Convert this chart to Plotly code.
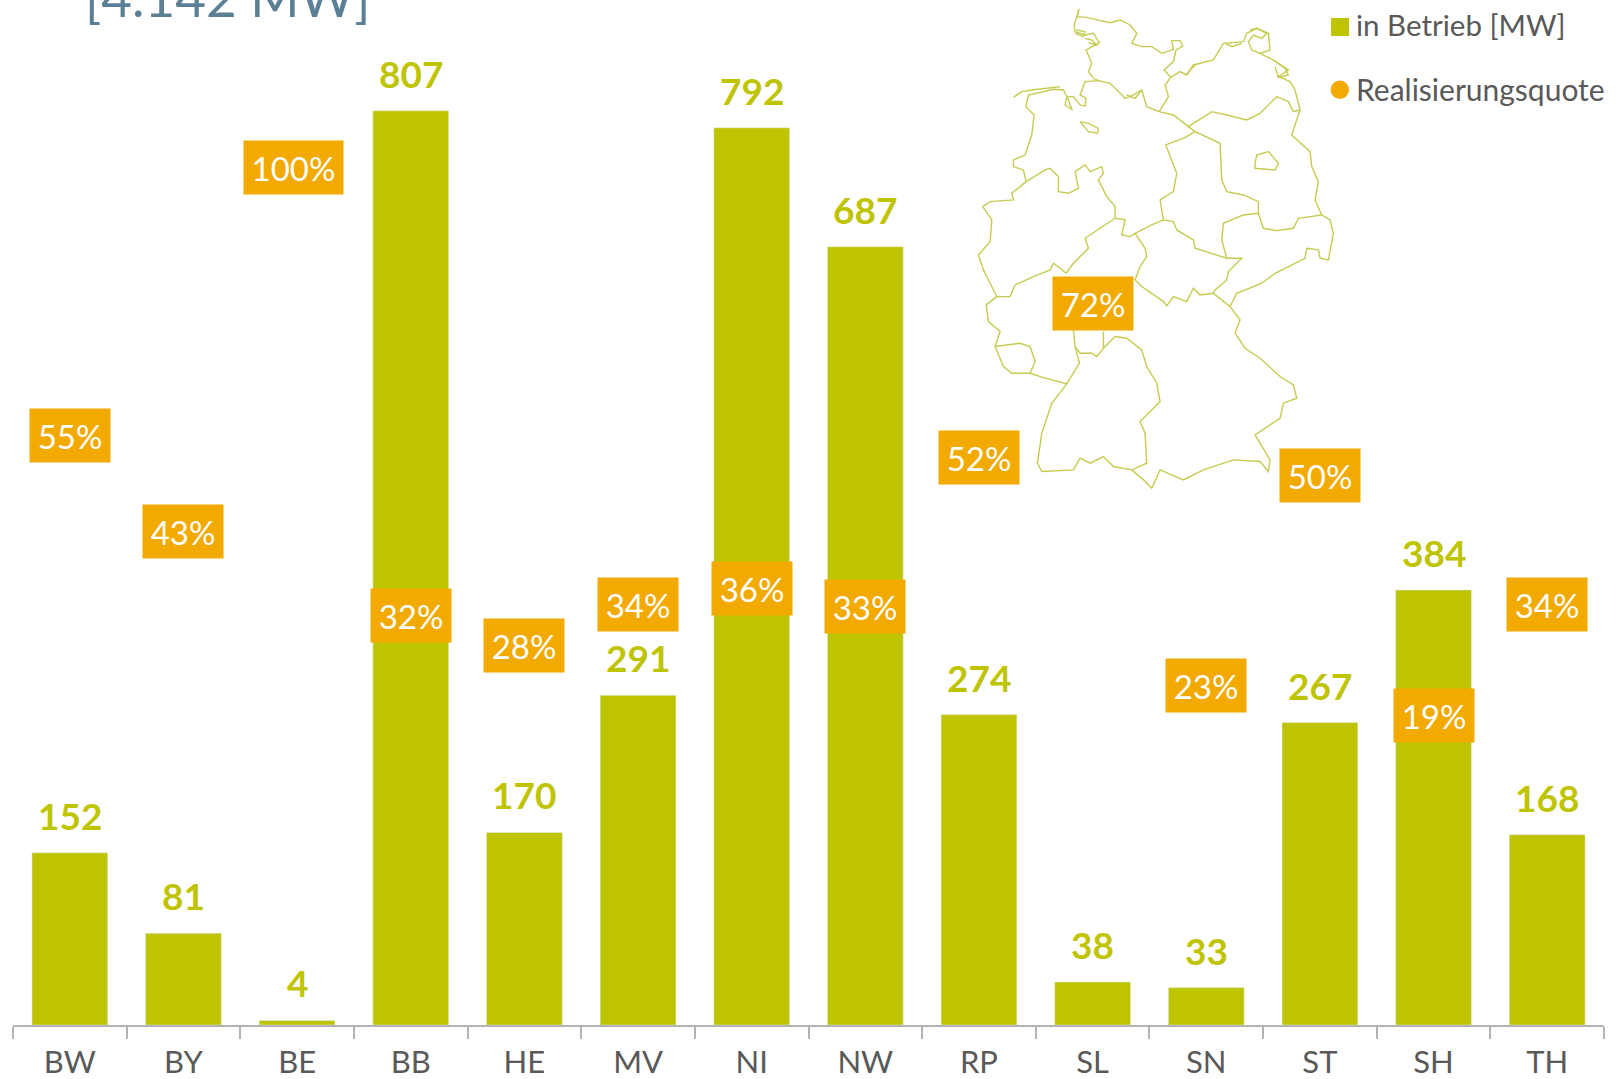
import plotly.graph_objects as go

categories = ["BW", "BY", "BE", "BB", "HE", "MV", "NI", "NW", "RP", "SL", "SN", "ST", "SH", "TH"]
in_betrieb = [152, 81, 4, 807, 170, 291, 792, 687, 274, 38, 33, 267, 384, 168]
quote_labels = ["55%", "43%", "100%", "32%", "28%", "34%", "36%", "33%", "52%", "72%", "23%", "50%", "19%", "34%"]
quote_level = [55.0, 42.6, 89.5, 31.8, 28.0, 33.2, 35.3, 33.0, 52.2, 72.0, 22.8, 49.9, 19.0, 33.2]
title_text = "[4.142 MW]"
legend_names = ["in Betrieb [MW]", "Realisierungsquote"]

OLIVE = "#bfc400"
ORANGE = "#f2a900"
GREY = "#595959"
MAP = "#c6cb50"
W, H = 1623, 1079
ML, MR, MT, MB = 12.7, 19, 0, 53.7
FONT = "Lato"

# Germany sketch: decorative outline, in coordinates of a 1200x1500 drawing box
map_lines = [
    [(342,75),(350,50),(357,27),(352,50),(380,52),(420,62),(450,68),(480,60),(510,75),(530,100),(515,130),(545,140),(575,140),(605,160),(640,148),(635,122),(660,122),(668,138),(648,150),(640,185),(612,210),(632,232),(615,255),(625,290),(597,335)],
    [(342,75),(345,95),(375,105),(400,100),(418,128),(378,150),(395,190),(385,215),(400,235),(415,242)],
    [(597,335),(560,320),(545,270),(510,290),(495,295),(450,250),(415,242),(375,245),(360,285),(378,295),(375,318),(360,315),(340,290),(320,290),(315,315),(335,328),(325,300),(310,270),(280,268),(205,285),(197,320),(222,345),(215,405),(195,465),(160,480),(160,500),(190,510),(198,545)],
    [(360,365),(385,370),(415,385),(412,400),(385,395),(360,365)],
    [(160,292),(185,275),(215,270),(260,265),(300,260)],
    [(198,545),(255,510),(270,505),(295,530),(295,575),(325,580),(355,565),(345,515),(375,495),(390,515),(425,500),(430,520),(415,540),(440,590),(465,620),(465,655),(495,660),(485,705),(510,710),(525,700),(575,675),(610,660),(600,600),(640,575),(650,520),(617,435),(670,415),(705,395),(685,380),(640,345),(597,335)],
    [(632,232),(660,215),(680,225),(700,195),(760,180),(790,130),(850,125),(860,100),(890,85),(925,100),(930,150),(900,160),(940,180),(985,210),(955,230),(990,245),(1005,270),(1020,330),(1000,335),(985,305),(950,290),(900,340),(860,360),(800,345),(755,335),(700,370),(685,380)],
    [(1020,330),(995,405),(1050,455),(1055,500),(1075,545),(1065,600),(1085,645),(1015,655),(1000,685),(950,692),(910,685),(895,640),(895,605),(850,585),(800,575),(785,540),(780,430),(705,395)],
    [(885,490),(890,465),(925,455),(955,490),(945,510),(885,505),(885,490)],
    [(610,660),(640,665),(650,690),(700,720),(705,745),(800,775),(785,720),(790,670),(850,645),(895,640)],
    [(800,775),(845,775),(805,815),(800,840),(765,870),(760,880),(810,920),(830,880),(905,850),(945,820),(1035,775),(1040,745),(1075,750),(1080,775),(1105,780),(1120,700),(1110,660),(1085,645)],
    [(525,700),(555,745),(560,770),(540,800),(525,840),(545,860),(610,905),(620,918),(640,890),(680,905),(700,865),(720,885),(760,880)],
    [(465,655),(420,685),(375,715),(385,745),(340,790),(318,820)],
    [(340,990),(345,1040),(360,1060),(395,1060),(410,1070),(430,1045),(430,995)],
    [(198,545),(155,580),(160,600),(90,605),(68,620),(95,660),(90,725),(55,765),(70,810),(90,850),(110,890),(150,890),(165,855),(220,830),(270,810),(280,790),(300,805),(318,820)],
    [(110,890),(78,915),(85,965),(120,995),(105,1040),(130,1100),(155,1120),(210,1120),(240,1130),(320,1152),(358,1090),(345,1040)],
    [(105,1040),(180,1030),(210,1040),(225,1085),(210,1120)],
    [(320,1152),(275,1210),(245,1300),(232,1390),(245,1415),(340,1410),(360,1375),(390,1390),(430,1370),(460,1400),(515,1410),(560,1390),(555,1300),(540,1265),(600,1205),(590,1150),(560,1100),(545,1050),(500,1015),(465,1010),(430,1045)],
    [(515,1410),(550,1440),(575,1465),(600,1410),(670,1440),(730,1410),(820,1380),(900,1385),(925,1415),(930,1380),(885,1305),(960,1255),(970,1210),(1010,1195),(1000,1155),(960,1130),(900,1075),(855,1045),(825,1000),(840,960),(810,920)],
    [(870,90),(890,85),(920,100),(905,115),(880,105),(865,125),(875,150),(900,160)],
    [(940,180),(975,205),(985,225),(955,232),(945,200)],
    [(795,130),(815,140),(845,130)],
    [(680,225),(690,210),(705,195)],
    [(350,90),(375,95),(370,110),(345,100)],
    [(375,115),(395,120),(410,135),(385,128)],
    [(500,285),(525,295),(545,270)],
]

def px(x):
    return (x - ML) / (W - ML - MR)

def py(y):
    return 1 - (y - MT) / (H - MT - MB)

fig = go.Figure()
fig.add_bar(x=categories, y=in_betrieb, marker_color=OLIVE, width=0.667, name=legend_names[0], showlegend=False)
fig.add_scatter(x=categories, y=quote_level, yaxis="y2", mode="markers", name=legend_names[1], showlegend=False,
                marker=dict(color=ORANGE, size=12), text=quote_labels)

annotations = []
for c, v in zip(categories, in_betrieb):
    annotations.append(dict(x=c, y=v, xref="x", yref="y", text=str(v), showarrow=False, yanchor="bottom",
                            yshift=13, font=dict(family=FONT, size=37, color=OLIVE, weight="bold")))
for c, q, t in zip(categories, quote_level, quote_labels):
    annotations.append(dict(x=c, y=q, xref="x", yref="y2", text=t, showarrow=False, bgcolor=ORANGE,
                            width=97 if t == "100%" else 78, height=51, align="center", valign="middle",
                            xshift=-4 if t == "100%" else 0,
                            font=dict(family=FONT, size=33, color="white")))
annotations.append(dict(x=px(83), y=py(30), xref="paper", yref="paper", xanchor="left", yanchor="bottom",
                        text=title_text, showarrow=False, font=dict(family=FONT, size=53, color="#5b7f95")))
annotations.append(dict(x=px(1354), y=py(25), xref="paper", yref="paper", xanchor="left", yanchor="middle",
                        text=legend_names[0], showarrow=False, font=dict(family=FONT, size=29.5, color=GREY)))
annotations.append(dict(x=px(1354), y=py(89), xref="paper", yref="paper", xanchor="left", yanchor="middle",
                        text=legend_names[1], showarrow=False, font=dict(family=FONT, size=30, color=GREY)))

shapes = [
    dict(type="rect", xref="paper", yref="paper", x0=px(1331), x1=px(1349), y0=py(36), y1=py(18), fillcolor=OLIVE, line_width=0),
    dict(type="circle", xref="paper", yref="paper", x0=px(1330.5), x1=px(1349), y0=py(99), y1=py(80.5), fillcolor=ORANGE, line_width=0),
]
for line in map_lines:
    d = "M" + " L".join(f"{px(960 + a / 3):.5f} {py(b / 3):.5f}" for a, b in line)
    shapes.append(dict(type="path", xref="paper", yref="paper", path=d, line=dict(color=MAP, width=1.4)))

fig.update_layout(
    width=W, height=H, autosize=False,
    margin=dict(l=ML, r=MR, t=MT, b=MB, pad=0, autoexpand=False),
    paper_bgcolor="white", plot_bgcolor="white", showlegend=False,
    font=dict(family=FONT, color=GREY),
    bargap=0.333,
    xaxis=dict(type="category", categoryorder="array", categoryarray=categories, tickson="boundaries",
               range=[-0.5, 13.5], ticks="outside", ticklen=12, tickwidth=2, tickcolor="#b3b3b3",
               ticklabelstandoff=9, automargin=False,
               showline=True, linecolor="#b3b3b3", linewidth=2, showgrid=False, zeroline=False,
               tickfont=dict(family=FONT, size=31, color=GREY)),
    yaxis=dict(range=[0, 904.8], visible=False, fixedrange=True),
    yaxis2=dict(range=[-20.86, 111.04], overlaying="y", visible=False, fixedrange=True),
    annotations=annotations, shapes=shapes,
)
fig.write_html("out.html", config=dict(displayModeBar=False),
               post_script="document.body.style.margin='0';document.documentElement.style.overflow='hidden';")
